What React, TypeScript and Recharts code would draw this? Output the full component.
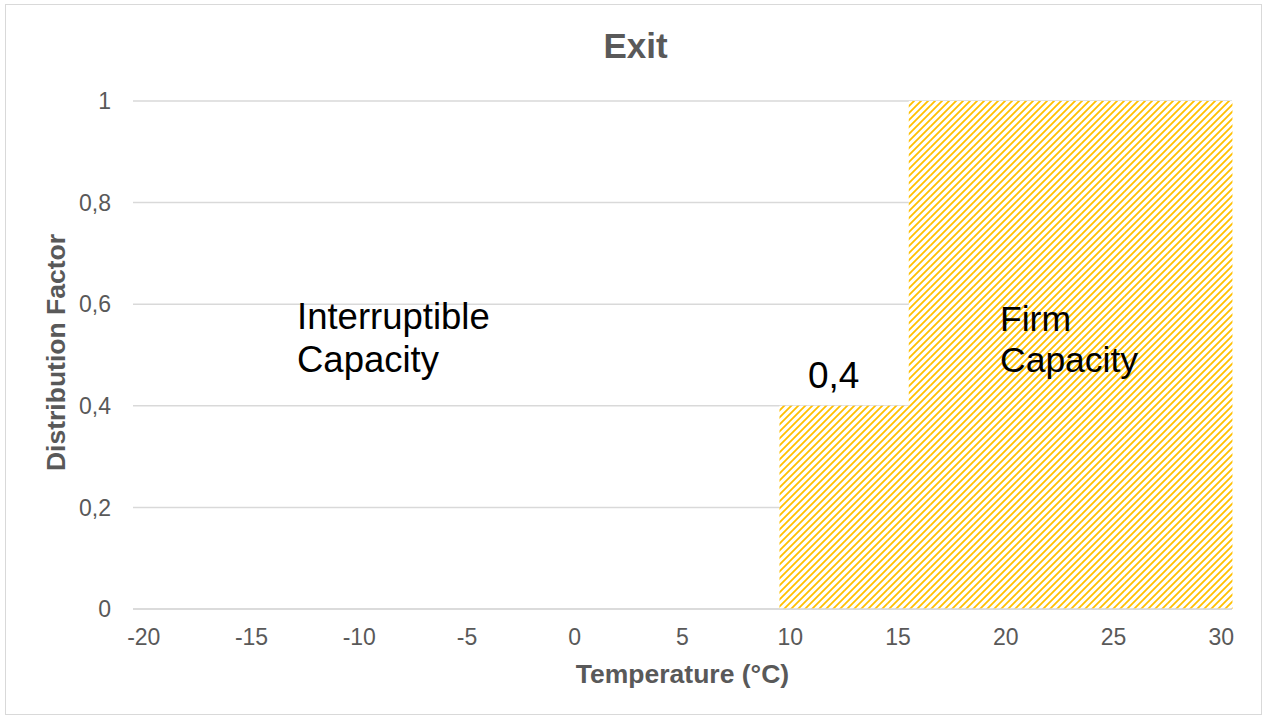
import React from 'react';
import { BarChart, Bar, XAxis, YAxis, CartesianGrid } from 'recharts';

// temperature categories (°C)
const temperatures = [
  -20, -19, -18, -17, -16, -15, -14, -13, -12, -11,
  -10, -9, -8, -7, -6, -5, -4, -3, -2, -1,
  0, 1, 2, 3, 4, 5, 6, 7, 8, 9,
  10, 11, 12, 13, 14, 15, 16, 17, 18, 19,
  20, 21, 22, 23, 24, 25, 26, 27, 28, 29,
  30,
];

// distribution factor per temperature
const factors = [
  0, 0, 0, 0, 0, 0, 0, 0, 0, 0,
  0, 0, 0, 0, 0, 0, 0, 0, 0, 0,
  0, 0, 0, 0, 0, 0, 0, 0, 0, 0,
  0.4, 0.4, 0.4, 0.4, 0.4, 0.4, 1, 1, 1, 1,
  1, 1, 1, 1, 1, 1, 1, 1, 1, 1,
  1,
];

const yTicks = [0, 0.2, 0.4, 0.6, 0.8, 1];

const data = temperatures.map((t, i) => ({ t, factor: factors[i] }));

const FONT = '"Liberation Sans", Arial, sans-serif';
const GREY = '#595959';

export default function App() {
  return (
    <div style={{ position: 'absolute', left: 0, top: 0, width: 1263, height: 720, background: '#fff', fontFamily: FONT }}>
      <div style={{ position: 'absolute', left: 5, top: 4, width: 1257, height: 711, border: '1px solid #d9d9d9', boxSizing: 'border-box' }} />
      <BarChart
        width={1263}
        height={720}
        data={data}
        margin={{ top: 101, right: 31, left: 0, bottom: 0 }}
        barCategoryGap={0}
        barGap={0}
        style={{ position: 'absolute', left: 0, top: 0 }}
      >
        <defs>
          <pattern id="hatch" patternUnits="userSpaceOnUse" width="7" height="7">
            <rect width="7" height="7" fill="#ffffff" />
            <path d="M-2,2 L2,-2 M0,7 L7,0 M5,9 L9,5" stroke="#FFC000" strokeWidth="1.8" />
          </pattern>
        </defs>
        <CartesianGrid vertical={false} stroke="#d9d9d9" strokeWidth={1.5} />
        <XAxis
          dataKey="t"
          type="category"
          interval={4}
          height={111}
          axisLine={{ stroke: '#d9d9d9', strokeWidth: 1.5 }}
          tickLine={false}
          tickSize={0}
          tickMargin={20}
          tick={{ fill: GREY, fontSize: 23, fontFamily: FONT }}
        />
        <YAxis
          width={133}
          domain={[0, 1]}
          ticks={yTicks}
          axisLine={false}
          tickLine={false}
          tickSize={0}
          tickMargin={22}
          tickFormatter={(v: number) => String(v).replace('.', ',')}
          tick={{ fill: GREY, fontSize: 23, fontFamily: FONT }}
        />
        <Bar dataKey="factor" fill="url(#hatch)" isAnimationActive={false} />
      </BarChart>
      <svg width={1263} height={720} style={{ position: 'absolute', left: 0, top: 0, pointerEvents: 'none' }}>
        <text x={635.5} y={58} textAnchor="middle" fill={GREY} fontSize={35} fontWeight="bold" fontFamily={FONT}>Exit</text>
        <text x={682.5} y={683} textAnchor="middle" fill={GREY} fontSize={26.5} fontWeight="bold" fontFamily={FONT}>Temperature (°C)</text>
        <text x={65} y={352.5} transform="rotate(-90 65 352.5)" textAnchor="middle" fill={GREY} fontSize={26.5} fontWeight="bold" fontFamily={FONT}>Distribution Factor</text>
        <g fill="#000" fontFamily={FONT}>
          <text x={297} y={329} fontSize={36.5}>Interruptible</text>
          <text x={297} y={372} fontSize={36.5}>Capacity</text>
          <text x={808} y={388} fontSize={37}>0,4</text>
          <text x={1000} y={331} fontSize={35.5}>Firm</text>
          <text x={1000} y={372} fontSize={35.5}>Capacity</text>
        </g>
      </svg>
    </div>
  );
}
